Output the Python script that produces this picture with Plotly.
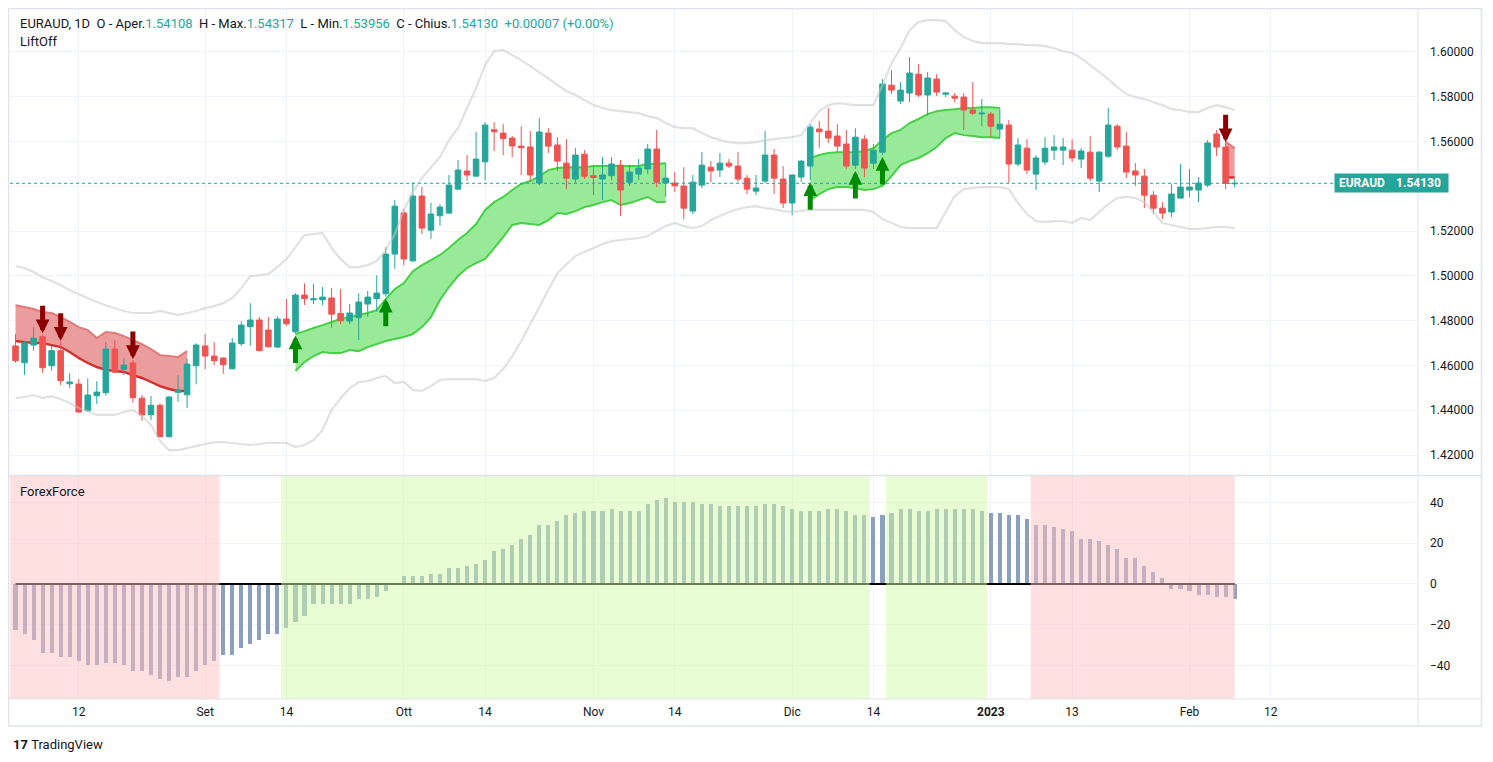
import pandas as pd
import plotly.graph_objects as go
from plotly.subplots import make_subplots

# ---------------- data ----------------
dates = pd.bdate_range("2022-08-03", "2023-02-08")
idx = list(range(len(dates)))

open_ = [1.4687, 1.4612, 1.4691, 1.4728, 1.4599, 1.4666, 1.4518, 1.4517, 1.4398, 1.4465,
         1.4478, 1.4673, 1.4583, 1.4611, 1.4454, 1.4380, 1.4422, 1.4282, 1.4480, 1.4469,
         1.4599, 1.4687, 1.4642, 1.4633, 1.4585, 1.4697, 1.4773, 1.4803, 1.4758, 1.4682,
         1.4807, 1.4750, 1.4914, 1.4893, 1.4893, 1.4901, 1.4832, 1.4798, 1.4813, 1.4874,
         1.4898, 1.4920, 1.5097, 1.5281, 1.5067, 1.5356, 1.5204, 1.5268, 1.5280, 1.5387,
         1.5468, 1.5445, 1.5509, 1.5652, 1.5637, 1.5615, 1.5579, 1.5575, 1.5414, 1.5637,
         1.5584, 1.5503, 1.5432, 1.5543, 1.5447, 1.5432, 1.5447, 1.5494, 1.5418, 1.5454,
         1.5477, 1.5566, 1.5414, 1.5414, 1.5401, 1.5289, 1.5405, 1.5485, 1.5472, 1.5503,
         1.5490, 1.5436, 1.5378, 1.5423, 1.5539, 1.5432, 1.5325, 1.5441, 1.5490, 1.5655,
         1.5646, 1.5624, 1.5588, 1.5494, 1.5610, 1.5503, 1.5552, 1.5851, 1.5780, 1.5816,
         1.5900, 1.5807, 1.5878, 1.5811, 1.5802, 1.5798, 1.5740, 1.5723, 1.5722, 1.5655,
         1.5673, 1.5499, 1.5570, 1.5454, 1.5508, 1.5561, 1.5561, 1.5561, 1.5521, 1.5552,
         1.5423, 1.5534, 1.5668, 1.5579, 1.5468, 1.5445, 1.5360, 1.5302, 1.5285, 1.5347,
         1.5383, 1.5383, 1.5405, 1.5633, 1.5575, 1.54108]
high = [1.4740, 1.4706, 1.4771, 1.4739, 1.4687, 1.4706, 1.4565, 1.4539, 1.4542, 1.4530,
        1.4704, 1.4713, 1.4632, 1.4624, 1.4468, 1.4463, 1.4431, 1.4463, 1.4556, 1.4629,
        1.4699, 1.4740, 1.4704, 1.4636, 1.4722, 1.4797, 1.4878, 1.4816, 1.4816, 1.4820,
        1.4896, 1.4922, 1.4966, 1.4963, 1.4950, 1.4945, 1.4941, 1.4874, 1.4922, 1.4932,
        1.5003, 1.5128, 1.5338, 1.5298, 1.5418, 1.5397, 1.5326, 1.5320, 1.5450, 1.5517,
        1.5539, 1.5642, 1.5686, 1.5686, 1.5677, 1.5624, 1.5668, 1.5646, 1.5704, 1.5659,
        1.5619, 1.5610, 1.5570, 1.5561, 1.5490, 1.5530, 1.5530, 1.5517, 1.5494, 1.5521,
        1.5588, 1.5651, 1.5503, 1.5463, 1.5485, 1.5450, 1.5552, 1.5512, 1.5548, 1.5521,
        1.5552, 1.5450, 1.5450, 1.5646, 1.5566, 1.5490, 1.5454, 1.5517, 1.5677, 1.5691,
        1.5749, 1.5677, 1.5651, 1.5659, 1.5628, 1.5588, 1.5878, 1.5918, 1.5865, 1.5976,
        1.5945, 1.5909, 1.5900, 1.5818, 1.5816, 1.5816, 1.5865, 1.5789, 1.5731, 1.5744,
        1.5695, 1.5615, 1.5610, 1.5539, 1.5619, 1.5628, 1.5615, 1.5610, 1.5570, 1.5624,
        1.5557, 1.5749, 1.5677, 1.5642, 1.5503, 1.5477, 1.5378, 1.5329, 1.5409, 1.5499,
        1.5477, 1.5441, 1.5606, 1.5651, 1.5592, 1.54317]
low = [1.4612, 1.4558, 1.4666, 1.4567, 1.4576, 1.4512, 1.4498, 1.4389, 1.4392, 1.4428,
       1.4465, 1.4567, 1.4557, 1.4433, 1.4353, 1.4356, 1.4279, 1.4279, 1.4438, 1.4411,
       1.4516, 1.4583, 1.4602, 1.4563, 1.4583, 1.4687, 1.4688, 1.4663, 1.4682, 1.4678,
       1.4777, 1.4743, 1.4870, 1.4874, 1.4868, 1.4768, 1.4785, 1.4785, 1.4713, 1.4817,
       1.4840, 1.4907, 1.5031, 1.5047, 1.5061, 1.5186, 1.5165, 1.5223, 1.5276, 1.5386,
       1.5424, 1.5443, 1.5427, 1.5557, 1.5539, 1.5530, 1.5450, 1.5423, 1.5405, 1.5548,
       1.5468, 1.5387, 1.5414, 1.5432, 1.5360, 1.5338, 1.5427, 1.5267, 1.5401, 1.5427,
       1.5454, 1.5396, 1.5352, 1.5375, 1.5253, 1.5276, 1.5392, 1.5418, 1.5441, 1.5481,
       1.5418, 1.5365, 1.5360, 1.5414, 1.5365, 1.5302, 1.5271, 1.5418, 1.5427, 1.5570,
       1.5592, 1.5552, 1.5477, 1.5477, 1.5441, 1.5477, 1.5539, 1.5811, 1.5767, 1.5775,
       1.5798, 1.5717, 1.5802, 1.5798, 1.5775, 1.5651, 1.5717, 1.5668, 1.5619, 1.5615,
       1.5414, 1.5490, 1.5454, 1.5383, 1.5494, 1.5517, 1.5494, 1.5508, 1.5481, 1.5423,
       1.5374, 1.5526, 1.5561, 1.5436, 1.5401, 1.5302, 1.5276, 1.5253, 1.5262, 1.5345,
       1.5352, 1.5329, 1.5396, 1.5535, 1.5387, 1.53956]
close = [1.4621, 1.4701, 1.4722, 1.4590, 1.4666, 1.4532, 1.4526, 1.4392, 1.4468, 1.4481,
         1.4673, 1.4570, 1.4602, 1.4456, 1.4379, 1.4422, 1.4282, 1.4459, 1.4490, 1.4606,
         1.4691, 1.4642, 1.4621, 1.4603, 1.4700, 1.4780, 1.4803, 1.4666, 1.4683, 1.4807,
         1.4786, 1.4914, 1.4898, 1.4898, 1.4905, 1.4829, 1.4799, 1.4834, 1.4883, 1.4905,
         1.4923, 1.5097, 1.5311, 1.5075, 1.5356, 1.5213, 1.5276, 1.5307, 1.5405, 1.5472,
         1.5450, 1.5521, 1.5673, 1.5643, 1.5612, 1.5580, 1.5572, 1.5450, 1.5642, 1.5579,
         1.5512, 1.5436, 1.5539, 1.5445, 1.5439, 1.5450, 1.5499, 1.5383, 1.5463, 1.5481,
         1.5566, 1.5418, 1.5436, 1.5402, 1.5302, 1.5418, 1.5494, 1.5468, 1.5503, 1.5490,
         1.5432, 1.5387, 1.5392, 1.5539, 1.5436, 1.5325, 1.5450, 1.5512, 1.5664, 1.5643,
         1.5615, 1.5579, 1.5490, 1.5619, 1.5481, 1.5561, 1.5856, 1.5829, 1.5829, 1.5905,
         1.5807, 1.5883, 1.5820, 1.5816, 1.5793, 1.5740, 1.5726, 1.5726, 1.5668, 1.5677,
         1.5499, 1.5584, 1.5472, 1.5526, 1.5570, 1.5575, 1.5575, 1.5526, 1.5557, 1.5436,
         1.5552, 1.5673, 1.5575, 1.5463, 1.5450, 1.5360, 1.5302, 1.5280, 1.5365, 1.5396,
         1.5396, 1.5414, 1.5593, 1.5575, 1.54123, 1.54130]

bb_upper = [1.5043, 1.5035, 1.5017, 1.4994, 1.4977, 1.4959, 1.4936, 1.4918, 1.4901, 1.4883,
            1.4869, 1.4856, 1.4843, 1.4834, 1.4834, 1.4834, 1.4843, 1.4834, 1.4825, 1.4834,
            1.4843, 1.4856, 1.4865, 1.4878, 1.4901, 1.4945, 1.4999, 1.5003, 1.5008, 1.5039,
            1.5075, 1.5128, 1.5182, 1.5186, 1.5191, 1.5124, 1.5075, 1.5039, 1.5039, 1.5048,
            1.5066, 1.5115, 1.5186, 1.5294, 1.5374, 1.5436, 1.5481, 1.5530, 1.5606, 1.5659,
            1.5749, 1.5838, 1.5941, 1.6003, 1.6008, 1.5985, 1.5963, 1.5936, 1.5909, 1.5878,
            1.5851, 1.5825, 1.5807, 1.5784, 1.5762, 1.5749, 1.5740, 1.5735, 1.5731, 1.5726,
            1.5713, 1.5704, 1.5682, 1.5664, 1.5659, 1.5659, 1.5637, 1.5619, 1.5606, 1.5597,
            1.5592, 1.5592, 1.5597, 1.5606, 1.5610, 1.5615, 1.5619, 1.5628, 1.5682, 1.5735,
            1.5762, 1.5771, 1.5767, 1.5762, 1.5762, 1.5762, 1.5851, 1.5949, 1.6016, 1.6097,
            1.6133, 1.6141, 1.6141, 1.6137, 1.6097, 1.6066, 1.6048, 1.6039, 1.6039, 1.6039,
            1.6034, 1.6034, 1.6030, 1.6030, 1.6025, 1.6016, 1.6003, 1.5994, 1.5972, 1.5941,
            1.5909, 1.5878, 1.5842, 1.5811, 1.5798, 1.5789, 1.5775, 1.5762, 1.5744, 1.5740,
            1.5731, 1.5731, 1.5749, 1.5762, 1.5753, 1.5740]
bb_lower = [1.4454, 1.4459, 1.4468, 1.4454, 1.4463, 1.4450, 1.4432, 1.4410, 1.4396, 1.4379,
            1.4379, 1.4379, 1.4392, 1.4401, 1.4374, 1.4334, 1.4263, 1.4222, 1.4222, 1.4231,
            1.4240, 1.4249, 1.4258, 1.4258, 1.4254, 1.4249, 1.4245, 1.4249, 1.4254, 1.4254,
            1.4254, 1.4236, 1.4245, 1.4267, 1.4312, 1.4401, 1.4454, 1.4499, 1.4526, 1.4530,
            1.4544, 1.4553, 1.4521, 1.4526, 1.4490, 1.4486, 1.4508, 1.4535, 1.4539, 1.4539,
            1.4539, 1.4539, 1.4530, 1.4544, 1.4584, 1.4642, 1.4709, 1.4785, 1.4861, 1.4937,
            1.5012, 1.5052, 1.5088, 1.5106, 1.5124, 1.5142, 1.5155, 1.5160, 1.5164, 1.5169,
            1.5178, 1.5200, 1.5222, 1.5236, 1.5222, 1.5213, 1.5222, 1.5249, 1.5267, 1.5285,
            1.5298, 1.5307, 1.5311, 1.5302, 1.5298, 1.5289, 1.5285, 1.5289, 1.5294, 1.5294,
            1.5294, 1.5294, 1.5294, 1.5294, 1.5294, 1.5285, 1.5253, 1.5236, 1.5218, 1.5213,
            1.5213, 1.5213, 1.5213, 1.5285, 1.5356, 1.5387, 1.5392, 1.5396, 1.5396, 1.5396,
            1.5387, 1.5325, 1.5276, 1.5244, 1.5240, 1.5244, 1.5244, 1.5236, 1.5258, 1.5249,
            1.5285, 1.5320, 1.5347, 1.5352, 1.5347, 1.5329, 1.5285, 1.5236, 1.5227, 1.5218,
            1.5209, 1.5209, 1.5213, 1.5218, 1.5218, 1.5213]

# LiftOff bands (start bar index + edge values)
bear1_start = 0
bear1_top = [1.4869, 1.4861, 1.4852, 1.4838, 1.4834, 1.4816, 1.4794, 1.4771, 1.4758, 1.4722,
             1.4749, 1.4745, 1.4731, 1.4713, 1.4695, 1.4673, 1.4646, 1.4642, 1.4637, 1.4664]
bear1_bot = [1.4709, 1.4704, 1.4700, 1.4700, 1.4691, 1.4682, 1.4660, 1.4633, 1.4611, 1.4593,
             1.4580, 1.4575, 1.4571, 1.4557, 1.4544, 1.4526, 1.4508, 1.4495, 1.4486, 1.4486]
bull1_start = 31
bull1_top = [1.4740, 1.4753, 1.4767, 1.4780, 1.4794, 1.4807, 1.4816, 1.4825, 1.4834, 1.4847,
             1.4896, 1.4941, 1.4968, 1.5021, 1.5048, 1.5070, 1.5093, 1.5124, 1.5160, 1.5191,
             1.5231, 1.5294, 1.5329, 1.5352, 1.5383, 1.5410, 1.5423, 1.5445, 1.5472, 1.5481,
             1.5485, 1.5485, 1.5485, 1.5490, 1.5490, 1.5490, 1.5490, 1.5490, 1.5490, 1.5499,
             1.5499, 1.5503]
bull1_bot = [1.4575, 1.4615, 1.4642, 1.4660, 1.4655, 1.4655, 1.4669, 1.4664, 1.4682, 1.4695,
             1.4709, 1.4718, 1.4727, 1.4740, 1.4771, 1.4816, 1.4892, 1.4950, 1.4999, 1.5035,
             1.5057, 1.5075, 1.5124, 1.5173, 1.5227, 1.5236, 1.5231, 1.5227, 1.5249, 1.5280,
             1.5276, 1.5289, 1.5307, 1.5316, 1.5329, 1.5338, 1.5316, 1.5325, 1.5338, 1.5352,
             1.5329, 1.5329]
bull2_start = 88
bull2_top = [1.5526, 1.5539, 1.5548, 1.5552, 1.5552, 1.5552, 1.5557, 1.5570, 1.5606, 1.5637,
             1.5651, 1.5682, 1.5700, 1.5722, 1.5735, 1.5740, 1.5744, 1.5749, 1.5749, 1.5753,
             1.5753, 1.5749]
bull2_bot = [1.5338, 1.5365, 1.5387, 1.5396, 1.5396, 1.5392, 1.5383, 1.5387, 1.5401, 1.5445,
             1.5494, 1.5512, 1.5526, 1.5548, 1.5575, 1.5615, 1.5637, 1.5628, 1.5624, 1.5619,
             1.5619, 1.5615]
bear2_start = 134
bear2_top = [1.5598, 1.5570]
bear2_bot = [1.5439, 1.5439]

bear_arrows = [3, 5, 13, 134]
bull_arrows = [31, 41, 88, 93, 96]

# ForexForce histogram
force = [-22.5, -24.5, -27.3, -33.7, -33.7, -35.6, -35.6, -37.6, -39.5, -39.5,
         -38.6, -38.6, -39.5, -42.5, -42.5, -44.4, -46.4, -47.4, -45.4, -45.4,
         -42.5, -39.5, -37.6, -34.6, -34.6, -31.2, -29.3, -27.3, -24.3, -24.3,
         -21.4, -18.5, -15.5, -9.6, -9.6, -9.6, -9.6, -9.6, -7.2, -7.2,
         -6.2, -3.3, -0.3, 3.9, 3.9, 3.9, 4.9, 4.9, 7.8, 7.8,
         8.8, 9.8, 11.8, 16.2, 17.2, 19.1, 22.1, 24.0, 28.9, 28.9,
         30.9, 33.8, 34.8, 35.8, 35.8, 35.8, 36.8, 35.8, 35.8, 35.8,
         39.2, 41.2, 42.2, 40.2, 40.2, 40.2, 39.2, 39.2, 38.2, 38.2,
         38.2, 38.2, 38.2, 39.2, 39.2, 38.2, 36.8, 35.8, 35.8, 35.8,
         36.8, 36.8, 35.8, 33.8, 33.8, 32.8, 33.8, 34.8, 36.8, 36.8,
         35.8, 35.8, 36.8, 36.8, 36.8, 36.8, 36.8, 35.8, 34.8, 34.8,
         33.8, 33.8, 31.9, 28.9, 28.9, 27.9, 26.9, 25.9, 22.1, 22.1,
         21.1, 19.1, 17.2, 12.7, 12.7, 8.8, 5.9, 2.9, -2.3, -2.3,
         -3.3, -5.2, -5.2, -6.2, -6.2, -7.2]

# background regions of ForexForce (kind, first bar, last bar)
region_kind = ["bear", "bull", "bull", "bear"]
region_start = [0, 30, 97, 113]
region_end = [22, 94, 107, 135]

tick_dates = ["2022-08-12", "2022-09-01", "2022-09-14", "2022-10-03", "2022-10-14",
              "2022-11-01", "2022-11-14", "2022-12-01", "2022-12-14", "2023-01-02",
              "2023-01-13", "2023-02-01", "2023-02-14"]
tick_text = ["12", "Set", "14", "Ott", "14", "Nov", "14", "Dic", "14", "<b>2023</b>",
             "13", "Feb", "12"]
price_ticks = [1.42, 1.44, 1.46, 1.48, 1.50, 1.52, 1.54, 1.56, 1.58, 1.60]
force_ticks = [-40, -20, 0, 20, 40]

# ---------------- figure ----------------
# the page adds an 8px body margin, so the figure is 8px smaller and shifted
OFF = 8
W, H = 1493 - OFF, 762 - OFF
ML, MT = 10 - OFF, 9 - OFF
MR = W - (1418 - OFF)
MB = H - (699 - OFF)
PW, PH = W - ML - MR, H - MT - MB
FONT = "Roboto, 'Noto Sans', sans-serif"
TEXT = "#131722"
TEAL = "#26a69a"
RED = "#ef5350"
GRID = "#f0f3fa"
BORDER = "#e0e3eb"


def px_x(p):
    return (p - OFF - ML) / PW


def px_y(p):
    return (H - MB - (p - OFF)) / PH


def path_of(xs, ys, closed_with=None):
    pts = [f"{x},{y}" for x, y in zip(xs, ys)]
    if closed_with is not None:
        pts += [f"{x},{y}" for x, y in zip(reversed(xs), reversed(closed_with))]
        return "M " + " L ".join(pts) + " Z"
    return "M " + " L ".join(pts)


ext_dates = pd.bdate_range("2022-08-03", "2023-03-31")
tick_idx = [int(ext_dates.get_indexer([pd.Timestamp(d)])[0]) for d in tick_dates]
price_text = ["" if abs(v - close[-1]) < 0.008 else f"{v:.5f}" for v in price_ticks]

fig = make_subplots(rows=2, cols=1, shared_xaxes=True, vertical_spacing=0.002)

shapes = []

# LiftOff bands drawn beneath the candles
segments = [(bear1_start, bear1_top, bear1_bot, "bear"),
            (bull1_start, bull1_top, bull1_bot, "bull"),
            (bull2_start, bull2_top, bull2_bot, "bull"),
            (bear2_start, bear2_top, bear2_bot, "bear")]
for start, top, bot, kind in segments:
    xs = list(range(start, start + len(top)))
    if kind == "bear":
        fillc, topc, botc = "#eb9c9c", "#e27878", "#d32f2f"
    else:
        fillc, topc, botc = "#98ea98", "#45d145", "#45d145"
    shapes.append(dict(type="path", xref="x", yref="y", layer="between",
                       path=path_of(xs, top, closed_with=bot),
                       fillcolor=fillc, line=dict(width=0)))
    shapes.append(dict(type="path", xref="x", yref="y", layer="between",
                       path=path_of(xs, top), fillcolor="rgba(0,0,0,0)",
                       line=dict(color=topc, width=2)))
    shapes.append(dict(type="path", xref="x", yref="y", layer="between",
                       path=path_of(xs, bot), fillcolor="rgba(0,0,0,0)",
                       line=dict(color=botc, width=2.4 if kind == "bear" else 2)))

# Bollinger-style envelope
for band in (bb_upper, bb_lower):
    fig.add_trace(go.Scatter(x=idx, y=band, mode="lines",
                             line=dict(color="rgba(200,200,200,0.55)", width=2.2),
                             hoverinfo="skip", showlegend=False), 1, 1)

fig.add_trace(go.Candlestick(
    x=idx, open=open_, high=high, low=low, close=close,
    increasing=dict(line=dict(color=TEAL, width=1), fillcolor=TEAL),
    decreasing=dict(line=dict(color=RED, width=1), fillcolor=RED),
    whiskerwidth=0, showlegend=False, hoverinfo="skip"), 1, 1)

# ForexForce
fig.add_trace(go.Bar(x=idx, y=force, width=0.45, marker=dict(color="#8c9fbd", line=dict(width=0)),
                     hoverinfo="skip", showlegend=False), 2, 1)
fig.add_trace(go.Scatter(x=idx, y=[0] * len(idx), mode="lines", line=dict(color="#000000", width=2),
                         hoverinfo="skip", showlegend=False), 2, 1)

for kind, s, e in zip(region_kind, region_start, region_end):
    col = "rgba(255,193,193,0.5)" if kind == "bear" else "rgba(209,251,167,0.5)"
    shapes.append(dict(type="rect", xref="x2", yref="y2 domain",
                       x0=max(s - 0.6, -0.61), x1=min(e + 0.6, idx[-1]), y0=0, y1=1,
                       fillcolor=col, line=dict(width=0), layer="above"))

# last price line
shapes.append(dict(type="line", xref="paper", yref="y", x0=0, x1=px_x(1362),
                   y0=close[-1], y1=close[-1], line=dict(color=TEAL, width=1, dash="dot")))
# frame and separators
shapes.append(dict(type="line", xref="paper", yref="paper", x0=px_x(8), x1=px_x(1482),
                   y0=px_y(475.5), y1=px_y(475.5), line=dict(color=BORDER, width=1.5)))
shapes.append(dict(type="line", xref="paper", yref="paper", x0=1, x1=1,
                   y0=px_y(726), y1=px_y(8), line=dict(color=BORDER, width=1)))
shapes.append(dict(type="line", xref="paper", yref="paper", x0=px_x(8), x1=px_x(1482),
                   y0=0, y1=0, line=dict(color=BORDER, width=1)))
shapes.append(dict(type="rect", xref="paper", yref="paper", x0=px_x(8.5), x1=px_x(1481.5),
                   y0=px_y(726), y1=px_y(8.5), line=dict(color=BORDER, width=1.5)))

annotations = []
for i in bear_arrows:
    annotations.append(dict(x=i, y=high[i], xref="x", yref="y", text="", showarrow=True,
                            ax=0, ay=-30, arrowhead=2, arrowsize=0.55, arrowwidth=5,
                            arrowcolor="#8b0000", standoff=1))
for i in bull_arrows:
    annotations.append(dict(x=i, y=low[i], xref="x", yref="y", text="", showarrow=True,
                            ax=0, ay=31, arrowhead=2, arrowsize=0.55, arrowwidth=5,
                            arrowcolor="#008a00", standoff=2))

chg = close[-1] - close[-2]
val = lambda s: f"<span style='color:{TEAL}'>{s}</span>"
header = ("EURAUD, 1D&nbsp;&nbsp;O - Aper." + val(f"{open_[-1]:.5f}") +
          "&nbsp;&nbsp;H - Max." + val(f"{high[-1]:.5f}") +
          "&nbsp;&nbsp;L - Min." + val(f"{low[-1]:.5f}") +
          "&nbsp;&nbsp;C - Chius." + val(f"{close[-1]:.5f}") +
          "&nbsp;&nbsp;" + val(f"{chg:+.5f} ({chg / close[-2] * 100:+.2f}%)"))
annotations.append(dict(xref="paper", yref="paper", x=px_x(18), y=px_y(24), text=header,
                        showarrow=False, xanchor="left", yanchor="middle",
                        font=dict(size=13, color=TEXT, family=FONT)))
annotations.append(dict(xref="paper", yref="paper", x=px_x(18), y=px_y(41), text="LiftOff",
                        showarrow=False, xanchor="left", yanchor="middle",
                        font=dict(size=13, color=TEXT, family=FONT)))
annotations.append(dict(xref="paper", yref="paper", x=px_x(18), y=px_y(491), text="ForexForce",
                        showarrow=False, xanchor="left", yanchor="middle",
                        font=dict(size=13, color=TEXT, family=FONT)))
annotations.append(dict(xref="paper", yref="paper", x=px_x(11), y=px_y(744),
                        text="<b>17</b>&nbsp;TradingView", showarrow=False,
                        xanchor="left", yanchor="middle",
                        font=dict(size=13, color=TEXT, family=FONT)))
# price labels
annotations.append(dict(xref="paper", yref="y", x=px_x(1389.5), y=close[-1], text="<b>EURAUD</b>",
                        showarrow=False, bgcolor=TEAL, borderpad=2, width=50,
                        font=dict(size=12, color="white", family=FONT)))
annotations.append(dict(xref="paper", yref="y", x=px_x(1448.5), y=close[-1],
                        text=f"<b>{close[-1]:.5f}</b>", showarrow=False, bgcolor=TEAL,
                        borderpad=2, width=55, font=dict(size=12, color="white", family=FONT)))

xr = [-0.61, 155.3]
fig.update_layout(
    width=W, height=H, margin=dict(l=ML, r=MR, t=MT, b=MB),
    paper_bgcolor="white", plot_bgcolor="white", showlegend=False,
    hovermode=False, bargap=0, boxgap=0.12, shapes=shapes, annotations=annotations,
    font=dict(family=FONT, size=12, color=TEXT),
    xaxis=dict(range=xr, tickvals=tick_idx, showticklabels=False, showgrid=True,
               gridcolor=GRID, zeroline=False, rangeslider=dict(visible=False)),
    xaxis2=dict(range=xr, tickvals=tick_idx, ticktext=tick_text, showgrid=True,
                gridcolor=GRID, zeroline=False, ticks="", ticklabelstandoff=4,
                tickfont=dict(size=12, color=TEXT, family=FONT),
                rangeslider=dict(visible=False)),
    yaxis=dict(domain=[px_y(475), 1], side="right", range=[1.4111, 1.6191],
               tickvals=price_ticks, ticktext=price_text, showgrid=True, gridcolor=GRID,
               zeroline=False, ticks="", ticklabelstandoff=11,
               tickfont=dict(size=12, color=TEXT, family=FONT)),
    yaxis2=dict(domain=[0, px_y(476)], side="right", range=[-56.4, 52.9],
                tickvals=force_ticks, showgrid=True, gridcolor=GRID, zeroline=False,
                ticks="", ticklabelstandoff=11,
                tickfont=dict(size=12, color=TEXT, family=FONT)),
)

fig.write_html("out.html")
